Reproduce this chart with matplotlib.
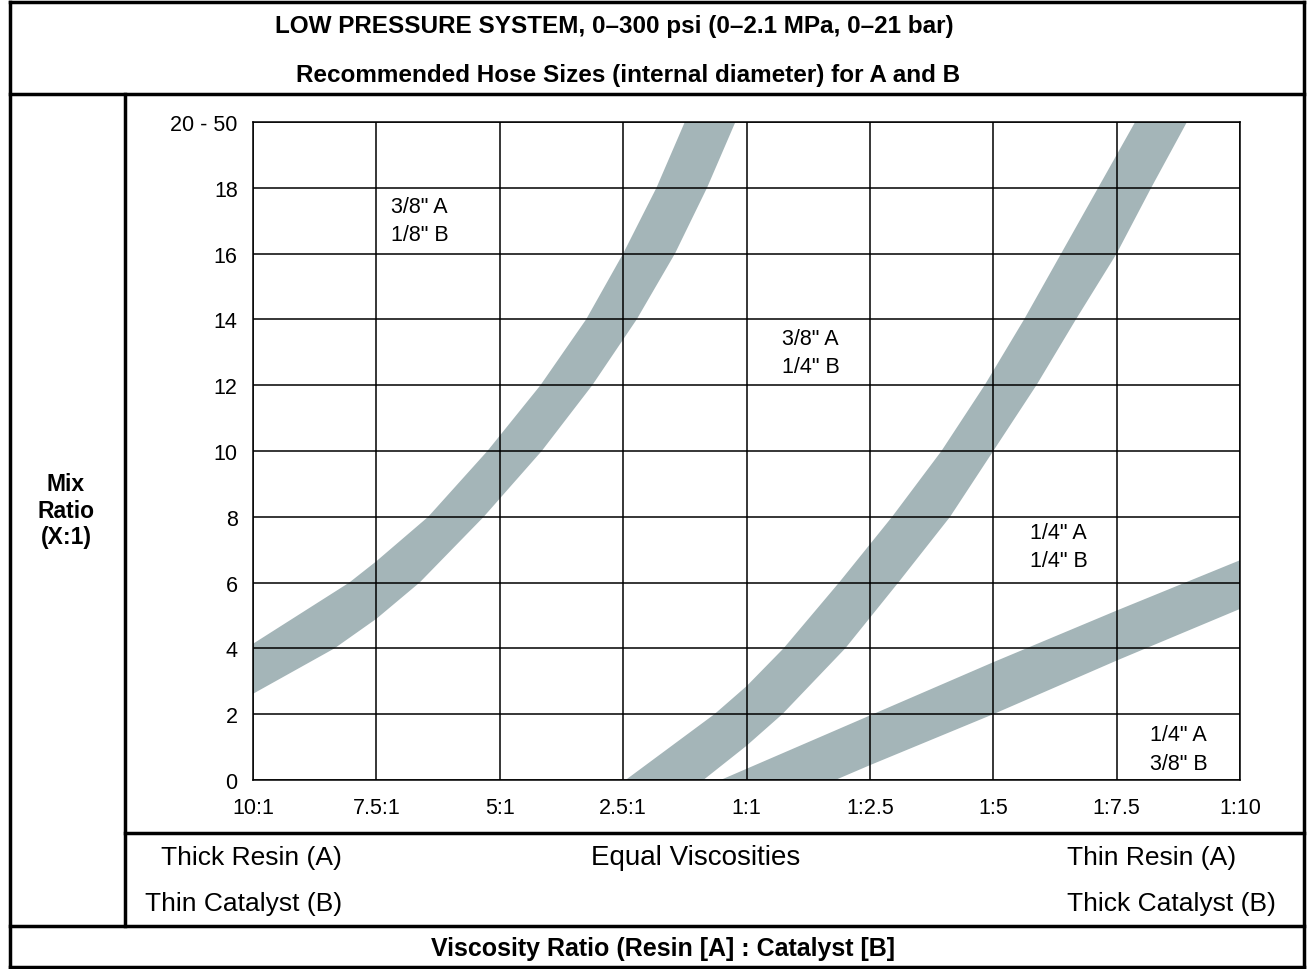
import numpy as np
import matplotlib
matplotlib.use('Agg')
import matplotlib.pyplot as plt
from matplotlib.lines import Line2D

plt.rcParams['font.family'] = ['Liberation Sans', 'DejaVu Sans']

W, H = 1307, 970

# tick labels
x_labels = ['10:1', '7.5:1', '5:1', '2.5:1', '1:1', '1:2.5', '1:5', '1:7.5', '1:10']
y_ticks = [0, 2, 4, 6, 8, 10, 12, 14, 16, 18, 20]
y_labels = ['0', '2', '4', '6', '8', '10', '12', '14', '16', '18', '20 - 50']

# band 1 (3/8-1/8 | 3/8-1/4 boundary)
b1_upper_x = [0, 0.78, 1.0, 1.42, 1.90, 2.33, 2.70, 3.0, 3.27, 3.50]
b1_upper_y = [4.14, 6, 6.65, 8, 10, 12, 14, 16, 18, 20]
b1_lower_x = [0, 0.66, 1.0, 1.35, 1.87, 2.34, 2.75, 3.11, 3.42, 3.68, 3.91]
b1_lower_y = [2.62, 4, 4.9, 6, 8, 10, 12, 14, 16, 18, 20]

# band 2 (3/8-1/4 | 1/4-1/4 boundary)
b2_upper_x = [3.02, 3.74, 4.0, 4.30, 4.75, 5.18, 5.58, 5.93, 6.25, 6.55, 6.85, 7.15]
b2_upper_y = [0, 2, 2.85, 4, 6, 8, 10, 12, 14, 16, 18, 20]
b2_lower_x = [3.65, 4.0, 4.29, 4.8, 5.23, 5.65, 6.0, 6.35, 6.67, 7.0, 7.28, 7.57]
b2_lower_y = [0, 1.04, 2, 4, 6, 8, 10, 12, 14, 16, 18, 20]

# band 3 (1/4-1/4 | 1/4-3/8 boundary)
b3_upper_x = [3.79, 5, 6, 7, 8]
b3_upper_y = [0, 1.96, 3.58, 5.15, 6.68]
b3_lower_x = [4.72, 5, 6, 7, 8]
b3_lower_y = [0, 0.45, 2.0, 3.63, 5.2]

zone_text = ['3/8" A\n1/8" B', '3/8" A\n1/4" B', '1/4" A\n1/4" B', '1/4" A\n3/8" B']
zone_x = [1.35, 4.52, 6.53, 7.50]
zone_y = [17.0, 13.0, 7.1, 0.94]

band_color = '#a4b5b8'

fig = plt.figure(figsize=(W / 100, H / 100), dpi=100)


def fx(px):
    return px / W


def fy(py):
    return 1 - py / H


def hline(y, x0, x1, lw=2.5):
    fig.add_artist(Line2D([fx(x0), fx(x1)], [fy(y), fy(y)], color='black', lw=lw,
                          transform=fig.transFigure, solid_capstyle='projecting'))


def vline(x, y0, y1, lw=2.5):
    fig.add_artist(Line2D([fx(x), fx(x)], [fy(y0), fy(y1)], color='black', lw=lw,
                          transform=fig.transFigure, solid_capstyle='projecting'))


# outer frame and table lines
hline(3, 10, 1304)
hline(968, 10, 1304)
vline(10, 3, 968)
vline(1304, 3, 968)
hline(95, 10, 1304)
vline(125, 95, 927)
hline(834, 125, 1304)
hline(927, 10, 1304)

ax = fig.add_axes([fx(253), fy(781), fx(1240) - fx(253), fy(123) - fy(781)])

for ux, uy, lx, ly in [(b1_upper_x, b1_upper_y, b1_lower_x, b1_lower_y),
                       (b2_upper_x, b2_upper_y, b2_lower_x, b2_lower_y),
                       (b3_upper_x, b3_upper_y, b3_lower_x, b3_lower_y)]:
    px = list(ux) + list(lx)[::-1]
    py = list(uy) + list(ly)[::-1]
    ax.fill(px, py, color=band_color, lw=0, zorder=1)

for t, x, y in zip(zone_text, zone_x, zone_y):
    ax.text(x, y, t, ha='center', va='center', fontsize=15.5, linespacing=1.45, zorder=3)

ax.set_xlim(0, 8)
ax.set_ylim(0, 20)
ax.set_xticks(range(len(x_labels)))
ax.set_xticklabels(x_labels)
ax.set_yticks(y_ticks)
ax.set_yticklabels(y_labels)
ax.tick_params(length=0, labelsize=15.5)
ax.tick_params(axis='y', pad=11)
ax.tick_params(axis='x', pad=12)
ax.set_axisbelow(False)
ax.grid(True, color='black', lw=1.1)
for s in ax.spines.values():
    s.set_linewidth(1.1)

# text around the chart
fig.text(fx(614), fy(26), 'LOW PRESSURE SYSTEM, 0\u2013300 psi (0\u20132.1 MPa, 0\u201321 bar)',
         ha='center', va='center', fontsize=17.5, fontweight='bold')
fig.text(fx(628), fy(76), 'Recommended Hose Sizes (internal diameter) for A and B',
         ha='center', va='center', fontsize=17.5, fontweight='bold')
fig.text(fx(66), fy(511), 'Mix\nRatio\n(X:1)', ha='center', va='center',
         fontsize=16.5, fontweight='bold', linespacing=1.2)
fig.text(fx(342), fy(858), 'Thick Resin (A)', ha='right', va='center', fontsize=19)
fig.text(fx(342), fy(904), 'Thin Catalyst (B)', ha='right', va='center', fontsize=19)
fig.text(fx(696), fy(858), 'Equal Viscosities', ha='center', va='center', fontsize=20)
fig.text(fx(1067), fy(858), 'Thin Resin (A)', ha='left', va='center', fontsize=19)
fig.text(fx(1067), fy(904), 'Thick Catalyst (B)', ha='left', va='center', fontsize=19)
fig.text(fx(663), fy(949), 'Viscosity Ratio (Resin [A] : Catalyst [B]', ha='center', va='center',
         fontsize=18, fontweight='bold')

fig.savefig('out.png', dpi=100)
